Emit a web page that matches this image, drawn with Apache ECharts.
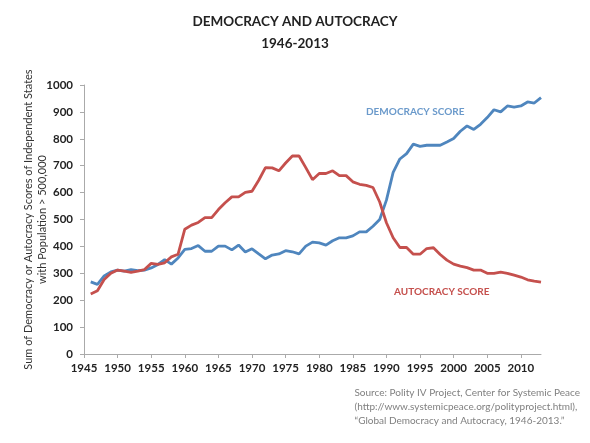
<!DOCTYPE html>
<html lang="en">
<head>
    <meta charset="UTF-8">
    <title>Democracy and Autocracy 1946-2013</title>
    <script src="https://cdn.jsdelivr.net/npm/echarts@6.0.0/dist/echarts.min.js"></script>
    <style>
        body { margin: 0; background: #fff; }
        #main { width: 590px; height: 443px; }
    </style>
</head>
<body>
    <div id="main"></div>
    <script>
        // years 1946-2013
        const years = [];
        for (let y = 1946; y <= 2013; y++) years.push(y);

        const democracy = [
            268, 259, 290, 305, 312, 308, 314, 310, 312, 320,
            333, 351, 334, 357, 389, 392, 403, 382, 382, 401,
            401, 387, 405, 379, 391, 372, 354, 368, 372, 384,
            380, 372, 401, 416, 413, 405, 421, 432, 432, 439,
            454, 454, 475, 500, 572, 675, 725, 745, 780, 772,
            776, 776, 776, 788, 801, 828, 848, 835, 854, 879,
            908, 900, 922, 918, 922, 937, 933, 953
        ];

        const autocracy = [
            223, 235, 277, 300, 312, 308, 303, 308, 314, 337,
            333, 339, 361, 371, 464, 479, 489, 507, 507, 537,
            562, 584, 584, 601, 605, 646, 693, 692, 681, 710,
            736, 736, 693, 648, 671, 671, 681, 663, 663, 640,
            631, 627, 619, 565, 488, 432, 396, 396, 371, 371,
            392, 395, 370, 349, 334, 327, 321, 312, 312, 300,
            300, 304, 300, 293, 286, 276, 271, 267
        ];

        const xTicks = [1945, 1950, 1955, 1960, 1965, 1970, 1975, 1980, 1985, 1990, 1995, 2000, 2005, 2010];

        const sourceLines = [
            'Source: Polity IV Project, Center for Systemic Peace',
            '(http://www.systemicpeace.org/polityproject.html),',
            '\u201cGlobal Democracy and Autocracy, 1946-2013.\u201d'
        ];

        const chart = echarts.init(document.getElementById('main'));
        const axisColor = '#aaaaaa';
        const labelStyle = { color: '#222', fontFamily: 'Lato', fontWeight: 'bold', fontSize: 11.5 };

        chart.setOption({
            animation: false,
            title: {
                text: 'DEMOCRACY AND AUTOCRACY',
                subtext: '1946-2013',
                left: 'center',
                top: 10,
                itemGap: 8,
                textStyle: { fontFamily: 'Lato', fontWeight: 'bold', fontSize: 13.5, color: '#222' },
                subtextStyle: { fontFamily: 'Lato', fontWeight: 'bold', fontSize: 13.5, color: '#222' }
            },
            grid: { left: 84, right: 49, top: 85, bottom: 89 },
            xAxis: {
                type: 'value',
                min: 1945,
                max: 2013,
                interval: 5,
                splitLine: { show: false },
                axisLine: { lineStyle: { color: axisColor } },
                axisTick: { length: 4, lineStyle: { color: axisColor }, customValues: xTicks },
                axisLabel: Object.assign({ margin: 8, customValues: xTicks, formatter: v => String(v) }, labelStyle)
            },
            yAxis: {
                type: 'value',
                min: 0,
                max: 1000,
                interval: 100,
                splitLine: { show: false },
                axisLine: { show: true, lineStyle: { color: axisColor } },
                axisTick: { show: true, length: 4, lineStyle: { color: axisColor } },
                axisLabel: Object.assign({ margin: 11, formatter: v => String(v) }, labelStyle),
                name: 'Sum of Democracy or Autocracy Scores of Independent States\nwith Population > 500,000',
                nameLocation: 'middle',
                nameRotate: 90,
                nameGap: 35,
                nameMoveOverlap: false,
                nameTextStyle: { fontFamily: 'Lato', fontSize: 11, color: '#333', lineHeight: 14 }
            },
            series: [
                {
                    name: 'Democracy',
                    type: 'line',
                    data: years.map((y, i) => [y, democracy[i]]),
                    symbol: 'none',
                    lineStyle: { color: '#4f86be', width: 2.8 }
                },
                {
                    name: 'Autocracy',
                    type: 'line',
                    data: years.map((y, i) => [y, autocracy[i]]),
                    symbol: 'none',
                    lineStyle: { color: '#c5504d', width: 2.8 }
                }
            ],
            graphic: [
                {
                    type: 'text', left: 366, top: 107,
                    style: { text: 'DEMOCRACY SCORE', fill: '#6b9acb', font: 'bold 10px Lato' }
                },
                {
                    type: 'text', left: 394, top: 287,
                    style: { text: 'AUTOCRACY SCORE', fill: '#c5504d', font: 'bold 10px Lato' }
                },
                {
                    type: 'text', right: 10, top: 386,
                    style: { text: sourceLines.join('\n'), fill: '#808080', font: '10px Lato', lineHeight: 14, align: 'right' }
                }
            ]
        });
    </script>
</body>
</html>
